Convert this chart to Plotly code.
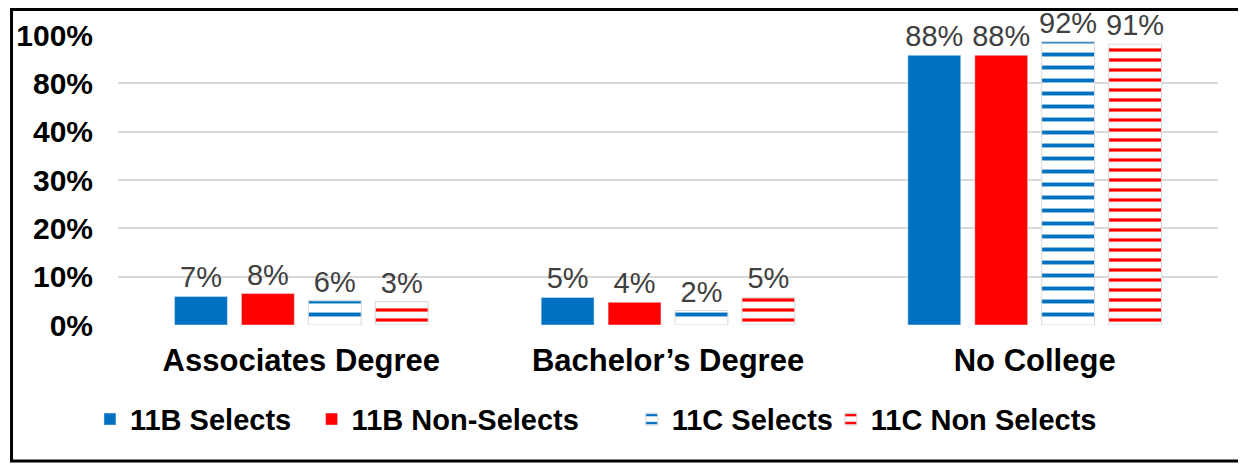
import plotly.graph_objects as go

# Categories and series
categories = ["Associates Degree", "Bachelor’s Degree", "No College"]
series_names = ["11B Selects", "11B Non-Selects", "11C Selects", "11C Non Selects"]

# Bar heights as drawn on the (uneven) axis, in axis units (10 units per gridline)
heights_11b_sel = [5.9, 5.7, 55.8]
heights_11b_non = [6.5, 4.7, 55.8]
heights_11c_sel = [5.0, 3.0, 58.6]
heights_11c_non = [4.8, 5.7, 58.1]

# Data labels shown above the bars
labels_11b_sel = ["7%", "5%", "88%"]
labels_11b_non = ["8%", "4%", "88%"]
labels_11c_sel = ["6%", "2%", "92%"]
labels_11c_non = ["3%", "5%", "91%"]

# Axis ticks (the chart uses an uneven scale)
tick_vals = [0, 10, 20, 30, 40, 50, 60]
tick_text = ["0%", "10%", "20%", "30%", "40%", "80%", "100%"]

BLUE = "#0070C0"
RED = "#FF0000"
FONT = "Liberation Sans, Arial, sans-serif"

fig = go.Figure()

styles = [
    (heights_11b_sel, labels_11b_sel, dict(color=BLUE)),
    (heights_11b_non, labels_11b_non, dict(color=RED)),
    (heights_11c_sel, labels_11c_sel, dict(
        color="white",
        line=dict(color="#d9d9d9", width=1),
        pattern=dict(shape="-", fgcolor=BLUE, bgcolor="white", fgopacity=1,
                     size=13, solidity=0.3))),
    (heights_11c_non, labels_11c_non, dict(
        color="white",
        line=dict(color="#d9d9d9", width=1),
        pattern=dict(shape="-", fgcolor=RED, bgcolor="white", fgopacity=1,
                     size=10, solidity=0.32))),
]

# one legend per entry so each can sit where the original places it
legend_ids = ["legend", "legend2", "legend3", "legend4"]
legend_x = [-0.0255, 0.176, 0.467, 0.648]

for name, (h, lab, marker), lid in zip(series_names, styles, legend_ids):
    fig.add_trace(go.Bar(
        x=categories, y=h, name=name,
        text=lab, textposition="outside",
        textfont=dict(family=FONT, size=29, color="#404040"),
        constraintext="none", cliponaxis=False,
        marker=marker, legend=lid,
    ))

legend_style = dict(
    orientation="h", xanchor="left", y=-0.325, yanchor="middle",
    font=dict(family=FONT, size=29, weight="bold"),
    bgcolor="rgba(0,0,0,0)",
)
legends = {lid: dict(legend_style, x=lx) for lid, lx in zip(legend_ids, legend_x)}

# the page adds an 8px body margin, so the figure is 8px smaller to fit the window
fig.update_layout(
    width=1238, height=456,
    margin=dict(l=110, r=28, t=27, b=139, autoexpand=False),
    paper_bgcolor="white", plot_bgcolor="white",
    barmode="group", bargap=0.27, bargroupgap=0.21,
    font=dict(family=FONT, color="black"),
    showlegend=True,
    xaxis=dict(
        showgrid=False, showline=False, ticks="",
        tickfont=dict(family=FONT, size=31, weight="bold"),
        ticklabelstandoff=14,
    ),
    yaxis=dict(
        range=[0, 60], tickvals=tick_vals, ticktext=tick_text,
        showgrid=True, gridcolor="#d9d9d9", gridwidth=2,
        zeroline=False, showline=False, ticks="",
        tickfont=dict(family=FONT, size=30, weight="bold"),
        ticklabelstandoff=24,
    ),
    shapes=[dict(
        type="rect", xref="paper", yref="paper",
        x0=-0.0968, x1=1.0227, y0=-0.469, y1=1.088,
        line=dict(color="black", width=3), layer="above",
    )],
    **legends,
)

fig.write_html("out.html")
